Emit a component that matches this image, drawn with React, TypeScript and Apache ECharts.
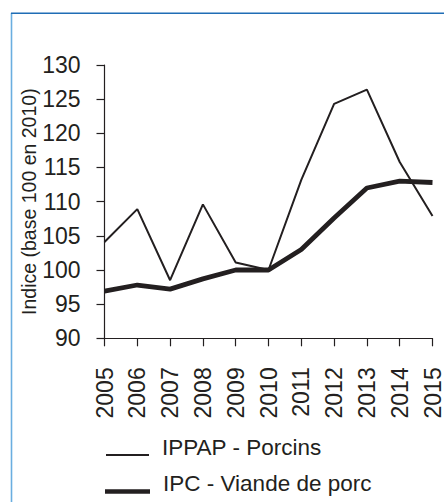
import React, { useEffect, useRef } from "react";
import * as echarts from "echarts";

const years = ["2005", "2006", "2007", "2008", "2009", "2010", "2011", "2012", "2013", "2014", "2015"];
const ippap = [104.1, 108.9, 98.5, 109.6, 101.1, 100.0, 113.2, 124.3, 126.4, 115.8, 107.9];
const ipc = [96.9, 97.8, 97.2, 98.7, 100.0, 100.0, 103.0, 107.6, 112.0, 113.0, 112.8];
const yTicks = { min: 90, max: 130, interval: 5 };
const seriesNames = ["IPPAP - Porcins", "IPC - Viande de porc"];

const INK = "#231f20";
const FONT = "'Liberation Sans', Arial, Helvetica, sans-serif";

export default function App() {
  const ref = useRef<HTMLDivElement>(null);
  useEffect(() => {
    if (!ref.current) return;
    const chart = echarts.init(ref.current, null, { renderer: "svg" });
    const legendText = {
      fontSize: 22.5,
      lineHeight: 16,
      fontFamily: FONT,
      color: INK,
      padding: [0, 0, 0, 8],
    };
    const legendFormatter = (name: string) => name + "\n ";
    chart.setOption({
      animation: false,
      backgroundColor: "#ffffff",
      grid: { left: 104.5, right: 10, top: 65, bottom: 163.7, containLabel: false },
      graphic: [
        { type: "line", shape: { x1: 11.5, y1: 13, x2: 11.5, y2: 502 }, style: { stroke: "#6aaee0", lineWidth: 1.6 } },
        { type: "line", shape: { x1: 11, y1: 13.3, x2: 444, y2: 13.3 }, style: { stroke: "#1f6db5", lineWidth: 1.4 } },
      ],
      xAxis: {
        type: "category",
        data: years,
        boundaryGap: false,
        axisLine: { lineStyle: { color: INK, width: 1.2 } },
        axisTick: { show: true, length: 8, inside: false, alignWithLabel: true, lineStyle: { color: INK, width: 1.2 } },
        axisLabel: { rotate: 90, margin: 29, fontSize: 23, fontFamily: FONT, color: INK, interval: 0 },
        splitLine: { show: false },
      },
      yAxis: {
        type: "value",
        min: yTicks.min,
        max: yTicks.max,
        interval: yTicks.interval,
        name: "Indice (base 100 en 2010)",
        nameLocation: "middle",
        nameGap: 66,
        nameMoveOverlap: false,
        nameTextStyle: { fontSize: 19.5, fontFamily: FONT, color: INK },
        axisLine: { show: true, lineStyle: { color: INK, width: 1.2 } },
        axisTick: { show: true, length: 8, lineStyle: { color: INK, width: 1.2 } },
        axisLabel: { margin: 24, fontSize: 23, fontFamily: FONT, color: INK },
        splitLine: { show: false },
      },
      legend: [
        {
          orient: "vertical",
          left: 101,
          top: 430.5,
          icon: "rect",
          itemWidth: 43,
          itemHeight: 2,
          formatter: legendFormatter,
          textStyle: legendText,
          data: [seriesNames[0]],
        },
        {
          orient: "vertical",
          left: 100,
          top: 467,
          icon: "rect",
          itemWidth: 45,
          itemHeight: 4.5,
          formatter: legendFormatter,
          textStyle: legendText,
          data: [seriesNames[1]],
        },
      ],
      series: [
        {
          name: seriesNames[0],
          type: "line",
          data: ippap,
          symbol: "none",
          lineStyle: { color: INK, width: 2 },
          itemStyle: { color: INK },
        },
        {
          name: seriesNames[1],
          type: "line",
          data: ipc,
          symbol: "none",
          lineStyle: { color: INK, width: 4.8 },
          itemStyle: { color: INK },
        },
      ],
    });
    return () => chart.dispose();
  }, []);
  return (
    <div
      ref={ref}
      style={{ position: "absolute", left: 0, top: 0, width: 444, height: 502, background: "#fff" }}
    />
  );
}
